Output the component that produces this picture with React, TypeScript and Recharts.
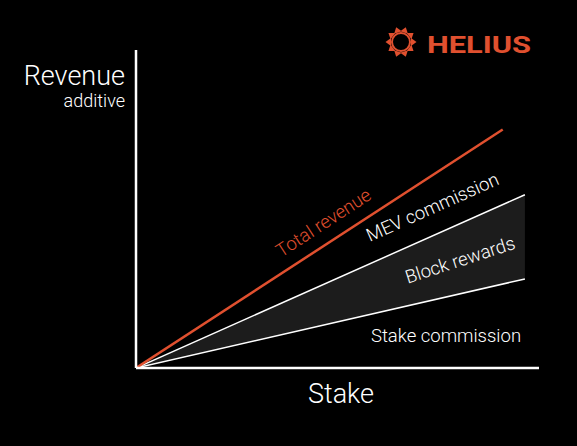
import { ComposedChart, Line, Area, XAxis, YAxis, ReferenceLine } from "recharts";

// stake (x) and revenue (y) on a 0..100 scale, straight lines from origin
const totalStake = [0, 91];
const totalRevenue = [0, 75];
const bandStake = [0, 96.5];
const stakeCommission = [0, 28];
const blockRewardsTop = [0, 54.5];

const RED = "#e0502f";
const FONT = "Roboto, 'Liberation Sans', sans-serif";

const totalData = totalStake.map((x, i) => ({ x, y: totalRevenue[i] }));
const bandData = bandStake.map((x, i) => ({
  x,
  low: stakeCommission[i],
  high: blockRewardsTop[i],
  range: [stakeCommission[i], blockRewardsTop[i]],
}));

function Logo() {
  const cx = 401;
  const cy = 42;
  const tris = Array.from({ length: 10 }, (_, i) => i * 36 + 18);
  return (
    <g>
      <circle cx={cx} cy={cy} r={9} fill="none" stroke={RED} strokeWidth={2} />
      {tris.map((a) => (
        <polygon
          key={a}
          points="-4,-10 4,-10 0,-15.5"
          fill={RED}
          transform={`translate(${cx} ${cy}) rotate(${a})`}
        />
      ))}
      <text
        x={427}
        y={53}
        fill={RED}
        fontSize={23}
        fontWeight={700}
        fontFamily={FONT}
        textLength={104}
        lengthAdjust="spacingAndGlyphs"
      >
        HELIUS
      </text>
    </g>
  );
}

export default function App() {
  return (
    <div style={{ position: "fixed", left: 0, top: 0, width: 577, height: 446, background: "#000" }}>
      <ComposedChart
        width={577}
        height={446}
        margin={{ top: 50, right: 38, bottom: 78, left: 136 }}
      >
        <XAxis dataKey="x" type="number" domain={[0, 100]} allowDataOverflow hide />
        <YAxis type="number" domain={[0, 100]} allowDataOverflow hide />
        <Area
          data={bandData}
          dataKey="range"
          type="linear"
          stroke="none"
          fill="#1c1c1c"
          fillOpacity={1}
          isAnimationActive={false}
        />
        <Line data={bandData} dataKey="high" type="linear" stroke="#fff" strokeWidth={1.5} dot={false} isAnimationActive={false} />
        <Line data={bandData} dataKey="low" type="linear" stroke="#fff" strokeWidth={1.5} dot={false} isAnimationActive={false} />
        <Line data={totalData} dataKey="y" type="linear" stroke={RED} strokeWidth={2.5} dot={false} isAnimationActive={false} />
        <ReferenceLine y={0} stroke="#fff" strokeWidth={2.5} ifOverflow="visible" />
        <ReferenceLine x={0} stroke="#fff" strokeWidth={2.5} ifOverflow="visible" />
      </ComposedChart>
      <svg width={577} height={446} style={{ position: "absolute", left: 0, top: 0, pointerEvents: "none" }}>
        <Logo />
        <g fontFamily={FONT} fontWeight={300}>
          <text x={125} y={85} textAnchor="end" fill="#fff" fontSize={27}>Revenue</text>
          <text x={125} y={107} textAnchor="end" fill="#fff" fontSize={18}>additive</text>
          <text x={341} y={403} textAnchor="middle" fill="#fff" fontSize={27}>Stake</text>
          <text x={446} y={342} textAnchor="middle" fill="#fff" fontSize={18.5}>Stake commission</text>
          <text x={0} y={0} textAnchor="middle" fill={RED} fontSize={18.5} transform="translate(327 228) rotate(-33)">Total revenue</text>
          <text x={0} y={0} textAnchor="middle" fill="#fff" fontSize={18.5} transform="translate(435 213) rotate(-24)">MEV commission</text>
          <text x={0} y={0} textAnchor="middle" fill="#fff" fontSize={18.5} transform="translate(462 266) rotate(-18)">Block rewards</text>
        </g>
      </svg>
    </div>
  );
}
